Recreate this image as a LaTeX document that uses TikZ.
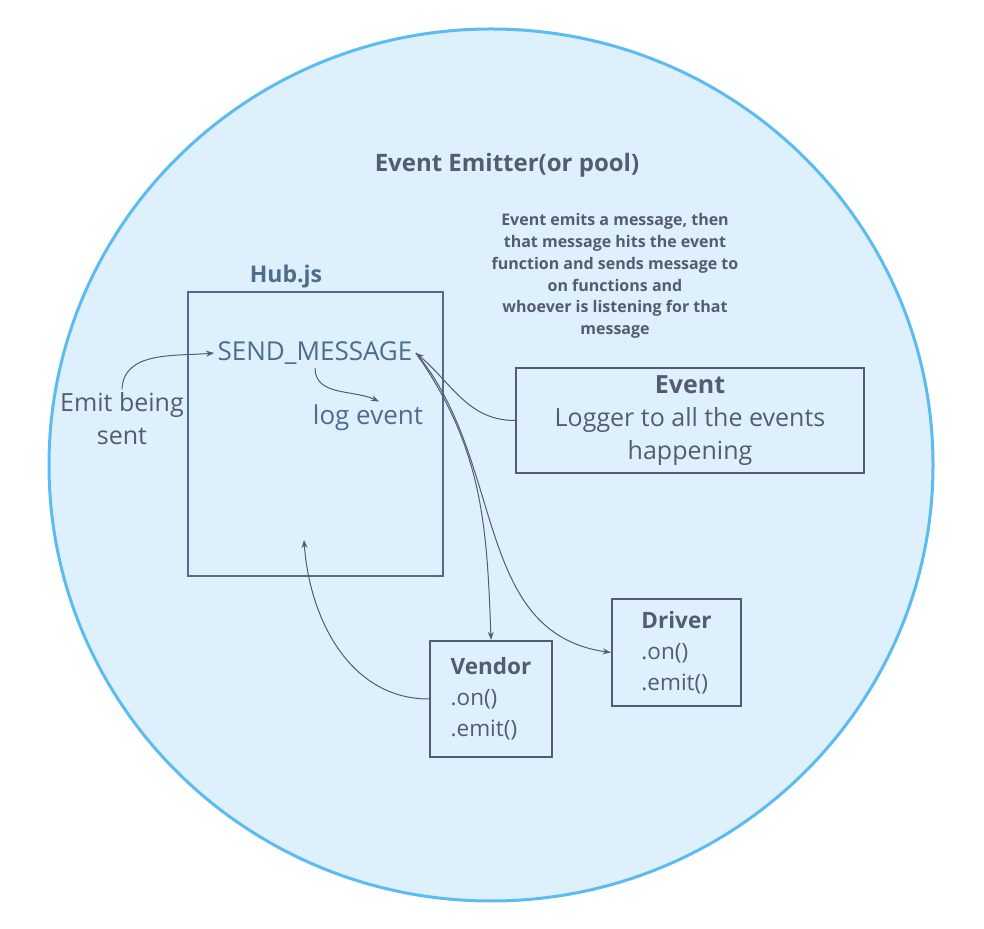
\documentclass[tikz,border=0pt]{standalone}
\usepackage{fontspec}
\setmainfont{Open Sans}
\usetikzlibrary{arrows.meta,positioning}
\definecolor{poolfill}{HTML}{DDF0FC}
\definecolor{pooledge}{HTML}{5BBCF2}
\definecolor{inkgrey}{HTML}{555B70}
\definecolor{hubblue}{HTML}{4E6C8B}
\tikzset{
  box/.style={
    draw=inkgrey,
    line width=2.4pt,
    inner sep=0pt
  },
  hub-box/.style={
    draw=hubblue,
    line width=2.4pt,
    minimum width=255pt,
    minimum height=284pt
  },
  link/.style={
    draw=inkgrey,
    line width=1pt,
    -{Stealth[length=8pt,width=6pt]}
  },
  big-text/.style={text=inkgrey, font=\fontsize{25}{33}\selectfont},
  card-text/.style={text=inkgrey, font=\fontsize{22.5}{31}\selectfont},
  hub-text/.style={text=hubblue, font=\fontsize{26}{30}\selectfont},
  head-text/.style={text=inkgrey, font=\bfseries\fontsize{23}{27}\selectfont},
  small-text/.style={text=inkgrey, font=\bfseries\fontsize{16}{21.8}\selectfont, align=center}
}

\begin{document}
\begin{tikzpicture}[x=1pt,y=1pt]
  \useasboundingbox (0,0) rectangle (984,928);
  % the pool
  \filldraw[fill=poolfill, draw=pooledge, line width=3pt]
    (491,463) ellipse [x radius=442, y radius=436];
  \node[head-text, font=\bfseries\fontsize{24}{28}\selectfont] (title) at (507,763) {Event Emitter(or pool)};
  \node[small-text] (note) at (615,652)
    {Event emits a message, then\\that message hits the event\\function and sends message to\\on functions and\\whoever is listening for that\\message};
  % hub
  \node[hub-box] (hub) at (315.5,494) {};
  \node[head-text, text=hubblue] (hubname) at (286,651) {Hub.js};
  \node[hub-text] (send) at (315,575) {SEND\_MESSAGE};
  \node[hub-text] (log) at (368,510) {log event};
  \coordinate (hubin) at (304,388);
  \node[big-text, align=center] (emit) at (122,509) {Emit being\\sent};
  % listeners
  \node[box, big-text, align=center, minimum width=348pt, minimum height=105pt] (event) at (690,507.5)
    {\textbf{Event}\\Logger to all the events\\happening};
  \node[box, card-text, align=left, minimum width=122pt, minimum height=116pt] (vendor) at (491,229)
    {\textbf{Vendor}\\.on()\\.emit()};
  \node[box, card-text, align=left, minimum width=129pt, minimum height=107pt] (driver) at (676.5,275.5)
    {\textbf{Driver}\\.on()\\.emit()};
  % connectors
  \draw[link] (emit.north) to[out=88, in=185] (send.west);
  \draw[link] (send.south) to[out=-90, in=155] ([xshift=11pt]log.north);
  \draw[link] (event.west) to[out=180, in=-40] (send.east);
  \draw[link] (send.east) to[out=-55, in=92] (vendor.north);
  \draw[link] (send.east) to[out=-50, in=172] (driver.west);
  \draw[link] (vendor.west) to[out=180, in=-86] (hubin);
\end{tikzpicture}
\end{document}
